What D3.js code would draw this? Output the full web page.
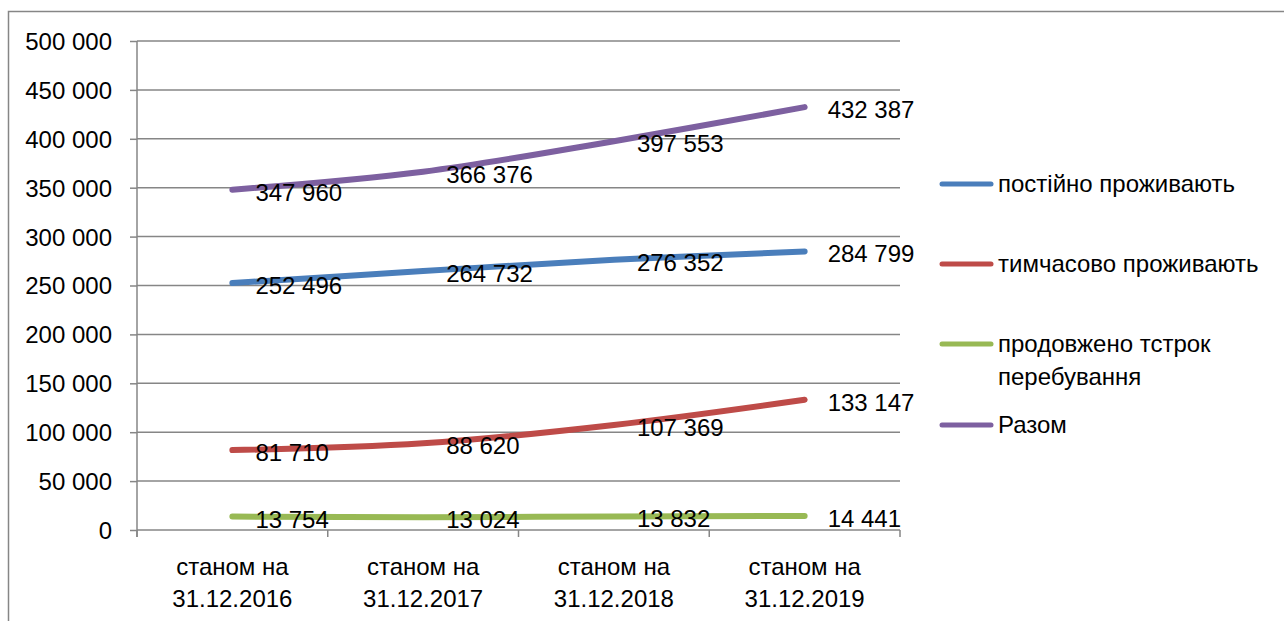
<!DOCTYPE html>
<html>
<head>
<meta charset="utf-8">
<script src="https://cdn.jsdelivr.net/npm/d3@7"></script>
<style>
  body { margin: 0; background: #fff; }
  svg text { font-family: "Liberation Sans", Arial, sans-serif; fill: #000; }
</style>
</head>
<body>
<div id="chart"></div>
<script>
// data
const categories = ["станом на\n31.12.2016", "станом на\n31.12.2017", "станом на\n31.12.2018", "станом на\n31.12.2019"]
const seriesNames = ["постійно проживають", "тимчасово проживають", "продовжено тстрок перебування", "Разом"]
const permanent = [252496, 264732, 276352, 284799]
const temporary = [81710, 88620, 107369, 133147]
const extended = [13754, 13024, 13832, 14441]
const total = [347960, 366376, 397553, 432387]
const yTicks = [0, 50000, 100000, 150000, 200000, 250000, 300000, 350000, 400000, 450000, 500000]
const colors = ["#4a7ebb", "#be4b48", "#98b954", "#7d60a0"]

const series = [permanent, temporary, extended, total].map((v, i) => ({ name: seriesNames[i], values: v, color: colors[i] }))

const chartW = 1284, chartH = 621
const plotLeft = 137, plotRight = 900, plotTop = 41, plotBottom = 530

const svg = d3.select("#chart").append("svg")
  .attr("width", chartW)
  .attr("height", chartH)

// outer border of chart area
svg.append("rect")
  .attr("x", 8.5).attr("y", 11.5)
  .attr("width", 1400).attr("height", 800)
  .attr("fill", "none")
  .attr("stroke", "#868686")
  .attr("stroke-width", 1.5)

const xScale = d3.scaleBand()
  .domain(categories)
  .range([plotLeft, plotRight])

const yScale = d3.scaleLinear()
  .domain([0, 500000])
  .range([plotBottom, plotTop])

const fmt = v => d3.format(",")(v).replace(/,/g, " ")

// gridlines + y axis
const yAxis = svg.append("g")
  .attr("transform", `translate(${plotLeft},0)`)
  .call(d3.axisLeft(yScale).tickValues(yTicks).tickSize(7).tickPadding(18).tickFormat(fmt))
yAxis.select(".domain").remove()
yAxis.selectAll(".tick line").attr("stroke", "#868686").attr("stroke-width", 1.5)
yAxis.selectAll(".tick text").style("font-size", "24px").attr("dy", "0.35em")
  .style("font-family", "Liberation Sans, Arial, sans-serif")

svg.append("g").selectAll("line")
  .data(yTicks)
  .enter()
  .append("line")
    .attr("x1", plotLeft).attr("x2", plotRight)
    .attr("y1", d => yScale(d)).attr("y2", d => yScale(d))
    .attr("stroke", "#868686")
    .attr("stroke-width", 1.5)

svg.append("line")
  .attr("x1", plotLeft).attr("x2", plotLeft)
  .attr("y1", plotTop).attr("y2", plotBottom + 7)
  .attr("stroke", "#868686").attr("stroke-width", 1.5)

// category ticks at band edges
const edges = categories.map(c => xScale(c)).concat([plotRight])
svg.append("g").selectAll("line")
  .data(edges)
  .enter()
  .append("line")
    .attr("x1", d => d).attr("x2", d => d)
    .attr("y1", plotBottom).attr("y2", plotBottom + 7)
    .attr("stroke", "#868686").attr("stroke-width", 1.5)

// category labels (two lines)
const catText = svg.append("g").selectAll("text")
  .data(categories)
  .enter()
  .append("text")
    .attr("text-anchor", "middle")
    .style("font-size", "24px")
    .attr("transform", d => `translate(${xScale(d) + xScale.bandwidth() / 2},575)`)
catText.selectAll("tspan")
  .data(d => d.split("\n"))
  .enter()
  .append("tspan")
    .attr("x", 0)
    .attr("y", (d, i) => i * 32)
    .text(d => d)

const cx = c => xScale(c) + xScale.bandwidth() / 2

const line = d3.line()
  .x((d, i) => cx(categories[i]))
  .y(d => yScale(d))
  .curve(d3.curveCatmullRom.alpha(0.5))

svg.append("g").selectAll("path")
  .data(series)
  .enter()
  .append("path")
    .attr("d", d => line(d.values))
    .attr("fill", "none")
    .attr("stroke", d => d.color)
    .attr("stroke-width", 6)
    .attr("stroke-linecap", "round")
    .attr("stroke-linejoin", "round")

// data labels to the right of each point
series.forEach(s => {
  svg.append("g").selectAll("text")
    .data(s.values)
    .enter()
    .append("text")
      .attr("x", (d, i) => cx(categories[i]) + 23)
      .attr("y", d => yScale(d) + 11)
      .style("font-size", "24px")
      .text(d => fmt(d))
})

// legend
const legendRows = [
  { y: 184, lines: ["постійно проживають"] },
  { y: 264, lines: ["тимчасово проживають"] },
  { y: 344, lines: ["продовжено тстрок", "перебування"] },
  { y: 425, lines: ["Разом"] }
]
const legend = svg.append("g").selectAll("g")
  .data(series)
  .enter()
  .append("g")
    .attr("transform", (d, i) => `translate(0,${legendRows[i].y})`)
legend.append("line")
  .attr("x1", 942).attr("x2", 991)
  .attr("y1", 0).attr("y2", 0)
  .attr("stroke", d => d.color)
  .attr("stroke-width", 5)
  .attr("stroke-linecap", "round")
const lt = legend.append("text")
  .attr("x", 998)
  .style("font-size", "24px")
lt.selectAll("tspan")
  .data((d, i) => legendRows[i].lines)
  .enter()
  .append("tspan")
    .attr("x", 998)
    .attr("y", (d, i) => i * 33)
    .attr("dy", "0.35em")
    .text(d => d)
</script>
</body>
</html>
